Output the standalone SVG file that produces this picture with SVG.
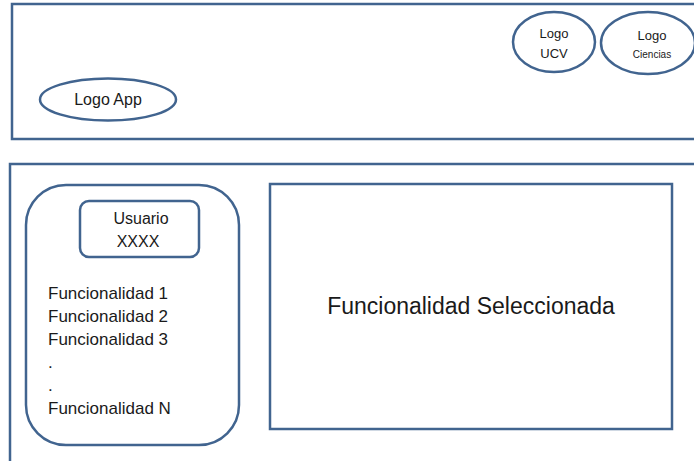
<svg xmlns="http://www.w3.org/2000/svg" width="694" height="461" viewBox="0 0 694 461">
<style>
.b{fill:#fff;stroke:#41648f;stroke-width:2.5}
.t{font-family:"Liberation Sans",Arial,sans-serif;fill:#1a1a1a}
.f{font-size:17px}
</style>
<rect width="694" height="461" fill="#fff"/>
<g id="header">
<rect class="b" x="12" y="4" width="690" height="135"/>
</g>
<g id="logo-app">
<ellipse class="b" cx="108" cy="99.5" rx="68" ry="21"/>
<text class="t" x="108" y="105" font-size="16" text-anchor="middle">Logo App</text>
</g>
<g id="logo-ucv">
<ellipse class="b" cx="554" cy="42" rx="41" ry="30"/>
<text class="t" x="554" y="38" font-size="13" text-anchor="middle" fill="#2a1030">Logo</text>
<text class="t" x="554" y="58" font-size="13" text-anchor="middle">UCV</text>
</g>
<g id="logo-ciencias">
<ellipse class="b" cx="648" cy="43" rx="47" ry="31"/>
<text class="t" x="652" y="40" font-size="13" text-anchor="middle">Logo</text>
<text class="t" x="652" y="58" font-size="10" text-anchor="middle">Ciencias</text>
</g>
<g id="body">
<rect class="b" x="10" y="164" width="700" height="310"/>
</g>
<g id="menu">
<rect class="b" x="26" y="185" width="213" height="260" rx="40" ry="40"/>
<text class="t f" x="48" y="299">Funcionalidad 1</text>
<text class="t f" x="48" y="322">Funcionalidad 2</text>
<text class="t f" x="48" y="345">Funcionalidad 3</text>
<text class="t f" x="48" y="368">.</text>
<text class="t f" x="48" y="391">.</text>
<text class="t f" x="48" y="414">Funcionalidad N</text>
</g>
<g id="usuario">
<rect class="b" x="80" y="201" width="119" height="56" rx="9" ry="9"/>
<text class="t" x="141" y="224" font-size="16" text-anchor="middle" fill="#2a1030">Usuario</text>
<text class="t" x="138" y="247" font-size="16" text-anchor="middle">XXXX</text>
</g>
<g id="seleccionada">
<rect class="b" x="270" y="184" width="402" height="245"/>
<text class="t" x="471" y="314" font-size="23" text-anchor="middle">Funcionalidad Seleccionada</text>
</g>
<g id="connectors"></g>
</svg>
